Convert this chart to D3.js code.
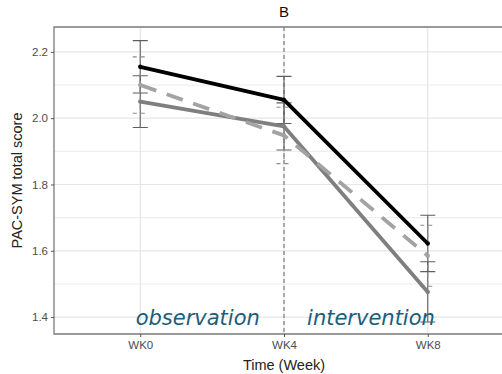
<!DOCTYPE html>
<html>
<head>
<meta charset="utf-8">
<script src="https://cdn.jsdelivr.net/npm/d3@7"></script>
<style>
  body { margin: 0; background: #fff; }
  svg { display: block; font-family: 'Liberation Sans', Arial, sans-serif; }
</style>
</head>
<body>
<svg id="chart" width="502" height="374"></svg>
<script>
const weeks = ['WK0', 'WK4', 'WK8']
const yTicks = [1.4, 1.6, 1.8, 2.0, 2.2]
const yMinor = [1.5, 1.7, 1.9, 2.1]

// mean scores and error half-widths per series
const blackMean = [2.155, 2.055, 1.622]
const blackErr = [0.079, 0.071, 0.085]
const greyMean = [2.050, 1.975, 1.476]
const greyErr = [0.078, 0.071, 0.091]
const dashMean = [2.100, 1.948, 1.585]
const dashErr = [0.085, 0.085, 0.092]

const phaseLabels = ['observation', 'intervention']
const phasePos = [1.4, 2.605] // in x units: 1 = WK0, 2 = WK4, 3 = WK8

const series = [
  { mean: greyMean, err: greyErr, color: '#7f7f7f', errColor: '#5e5e5e', dash: null, errDash: null },
  { mean: blackMean, err: blackErr, color: '#000', errColor: '#5e5e5e', dash: null, errDash: null },
  { mean: dashMean, err: dashErr, color: '#a3a3a3', errColor: '#8c8c8c', dash: '17,11', errDash: '4,4' },
]

const svg = d3.select('#chart')
const panel = { left: 54, top: 27, right: 514, bottom: 334 }

const x = d3.scalePoint().domain(weeks).range([panel.left, panel.right]).padding(0.6)
const y = d3.scaleLinear().domain([1.349, 2.275]).range([panel.bottom, panel.top])

svg.append('defs').append('clipPath').attr('id', 'clip')
  .append('rect')
  .attr('x', panel.left).attr('y', panel.top)
  .attr('width', panel.right - panel.left).attr('height', panel.bottom - panel.top)

// grid
const grid = svg.append('g')
grid.selectAll('.minor').data(yMinor).join('line')
  .attr('x1', panel.left).attr('x2', panel.right)
  .attr('y1', d => y(d)).attr('y2', d => y(d))
  .attr('stroke', '#ebebeb').attr('stroke-width', 1)
grid.selectAll('.major').data(yTicks).join('line')
  .attr('x1', panel.left).attr('x2', panel.right)
  .attr('y1', d => y(d)).attr('y2', d => y(d))
  .attr('stroke', '#e6e6e6').attr('stroke-width', 1.2)
grid.selectAll('.vx').data(weeks).join('line')
  .attr('x1', d => x(d)).attr('x2', d => x(d))
  .attr('y1', panel.top).attr('y2', panel.bottom)
  .attr('stroke', '#e6e6e6').attr('stroke-width', 1.2)

// phase divider at WK4
svg.append('line')
  .attr('x1', x('WK4')).attr('x2', x('WK4'))
  .attr('y1', panel.top).attr('y2', panel.bottom)
  .attr('stroke', '#555').attr('stroke-width', 0.9)
  .attr('stroke-dasharray', '4,3')

const plot = svg.append('g').attr('clip-path', 'url(#clip)')

// error bars
const capW = 7.5
series.forEach(s => {
  const g = plot.append('g')
    .attr('stroke', s.errColor).attr('stroke-width', 1.1).attr('fill', 'none')
    .attr('stroke-dasharray', s.errDash)
  weeks.forEach((w, i) => {
    const cx = x(w), hi = y(s.mean[i] + s.err[i]), lo = y(s.mean[i] - s.err[i])
    g.append('path')
      .attr('d', `M${cx - capW},${hi}H${cx + capW}M${cx},${hi}V${lo}M${cx - capW},${lo}H${cx + capW}`)
  })
})

// lines
const line = d3.line().x((d, i) => x(weeks[i])).y(d => y(d))
series.forEach(s => {
  plot.append('g').selectAll('circle').data(s.mean).join('circle')
    .attr('cx', (d, i) => x(weeks[i])).attr('cy', d => y(d))
    .attr('r', 2.2).attr('fill', s.color)
  plot.append('path')
    .attr('d', line(s.mean))
    .attr('fill', 'none')
    .attr('stroke', s.color).attr('stroke-width', 3.8)
    .attr('stroke-linejoin', 'round')
    .attr('stroke-dasharray', s.dash)
})

// phase labels
const xu = d3.scaleLinear().domain([1, 3]).range([x('WK0'), x('WK8')])
svg.append('g').selectAll('text').data(phaseLabels).join('text')
  .attr('x', (d, i) => xu(phasePos[i]))
  .attr('y', 325)
  .attr('text-anchor', 'middle')
  .attr('font-family', "'DejaVu Sans', sans-serif")
  .attr('font-style', 'italic')
  .attr('font-size', 21)
  .attr('fill', '#1b5e7b')
  .text(d => d)

// panel border and axis lines
svg.append('path')
  .attr('d', `M${panel.right},${panel.top}H${panel.left}V${panel.bottom}H${panel.right}`)
  .attr('fill', 'none').attr('stroke', '#7a7a7a').attr('stroke-width', 1.3)

// axes
const yAxis = svg.append('g').attr('transform', `translate(${panel.left},0)`)
  .call(d3.axisLeft(y).tickValues(yTicks).tickFormat(d3.format('.1f')).tickSize(3).tickPadding(3))
const xAxis = svg.append('g').attr('transform', `translate(0,${panel.bottom})`)
  .call(d3.axisBottom(x).tickSize(3).tickPadding(4))
;[yAxis, xAxis].forEach(a => {
  a.select('.domain').remove()
  a.selectAll('.tick line').attr('stroke', '#555')
  a.selectAll('.tick text').attr('fill', '#4d4d4d').attr('font-size', 11.5)
    .attr('font-family', "'Liberation Sans', Arial, sans-serif")
})

// titles
svg.append('text')
  .attr('x', x('WK4')).attr('y', 17)
  .attr('text-anchor', 'middle').attr('font-size', 15).attr('fill', '#111')
  .text('B')
svg.append('text')
  .attr('x', x('WK4')).attr('y', 370)
  .attr('text-anchor', 'middle').attr('font-size', 14.5).attr('fill', '#222')
  .text('Time (Week)')
svg.append('text')
  .attr('transform', `translate(22,${(panel.top + panel.bottom) / 2}) rotate(-90)`)
  .attr('text-anchor', 'middle').attr('font-size', 14.5).attr('fill', '#222')
  .text('PAC-SYM total score')
</script>
</body>
</html>
